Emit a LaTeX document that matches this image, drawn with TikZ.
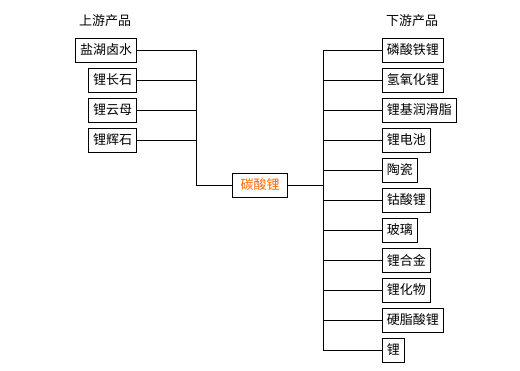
\documentclass[tikz,border=0pt]{standalone}
\usepackage{fontspec}
\setmainfont{Noto Sans CJK SC}
\usepackage{tikz}
\usetikzlibrary{positioning}
\usepackage{xcolor}
\definecolor{carbonate}{HTML}{FF6600}

\begin{document}
\begin{tikzpicture}[
  x=1pt,y=-1pt,
  item/.style={draw,line width=0.8pt,inner xsep=4.5pt,inner ysep=0pt,minimum height=24pt,font=\fontsize{13}{15}\selectfont},
  title/.style={font=\fontsize{13}{15}\selectfont,inner sep=0pt},
  link/.style={line width=0.8pt},
]
  \useasboundingbox (0,0) rectangle (520,370);

  % upstream
  \node[title] (up) at (105,21) {上游产品};
  \node[item,anchor=east] (brine) at (137,50) {盐湖卤水};
  \node[item,anchor=east] (feld) at (137,80) {锂长石};
  \node[item,anchor=east] (lepi) at (137,110) {锂云母};
  \node[item,anchor=east] (spod) at (137,140) {锂辉石};

  % centre
  \node[item,text=carbonate,inner xsep=8pt] (lc) at (260,185) {碳酸锂};
  \coordinate (ljoin) at (196,185);
  \coordinate (rjoin) at (323,185);

  % downstream
  \node[title] (down) at (412,21) {下游产品};
  \node[item,anchor=west] (lfp) at (382,50) {磷酸铁锂};
  \node[item,anchor=west] (lhyd) at (382,80) {氢氧化锂};
  \node[item,anchor=west] (grease) at (382,110) {锂基润滑脂};
  \node[item,anchor=west] (batt) at (382,140) {锂电池};
  \node[item,anchor=west] (cera) at (382,170) {陶瓷};
  \node[item,anchor=west] (lco) at (382,200) {钴酸锂};
  \node[item,anchor=west] (glass) at (382,230) {玻璃};
  \node[item,anchor=west] (alloy) at (382,260) {锂合金};
  \node[item,anchor=west] (cmpd) at (382,290) {锂化物};
  \node[item,anchor=west] (stear) at (382,320) {硬脂酸锂};
  \node[item,anchor=west] (metal) at (382,350) {锂};

  \draw[link] (brine.east) -| (ljoin) -- (lc.west);
  \draw[link] (feld.east) -- (feld.east -| ljoin);
  \draw[link] (lepi.east) -- (lepi.east -| ljoin);
  \draw[link] (spod.east) -- (spod.east -| ljoin);

  \draw[link] (lc.east) -- (rjoin);
  \draw[link] (lfp.west) -| (metal.west -| rjoin) -- (metal.west);
  \draw[link] (lhyd.west) -- (lhyd.west -| rjoin);
  \draw[link] (grease.west) -- (grease.west -| rjoin);
  \draw[link] (batt.west) -- (batt.west -| rjoin);
  \draw[link] (cera.west) -- (cera.west -| rjoin);
  \draw[link] (lco.west) -- (lco.west -| rjoin);
  \draw[link] (glass.west) -- (glass.west -| rjoin);
  \draw[link] (alloy.west) -- (alloy.west -| rjoin);
  \draw[link] (cmpd.west) -- (cmpd.west -| rjoin);
  \draw[link] (stear.west) -- (stear.west -| rjoin);
\end{tikzpicture}
\end{document}
